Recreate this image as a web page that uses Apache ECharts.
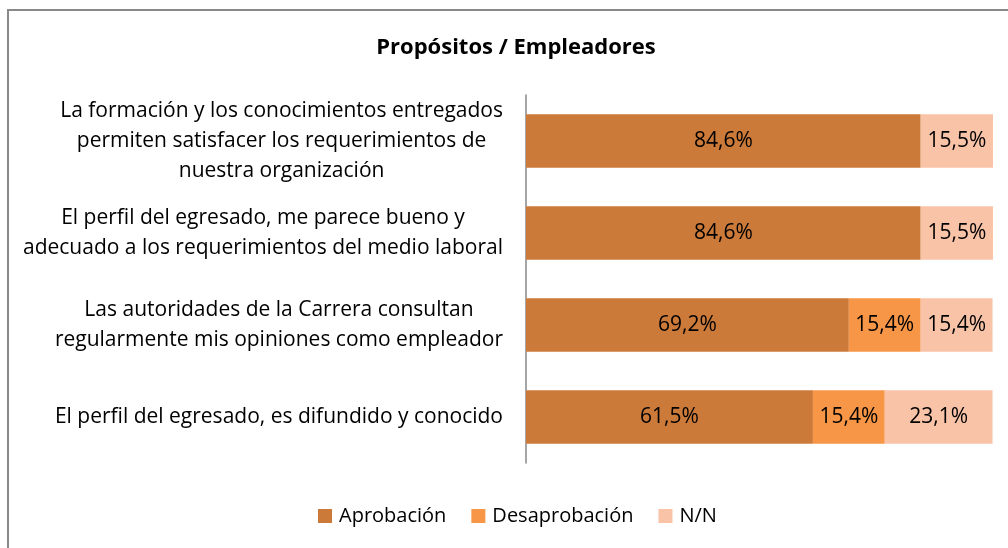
<!DOCTYPE html>
<html>
<head>
<meta charset="utf-8">
<script src="https://cdn.jsdelivr.net/npm/echarts@6/dist/echarts.min.js"></script>
<style>
  html, body { margin: 0; padding: 0; background: #fff; }
  #main { width: 1008px; height: 548px; }
</style>
</head>
<body>
<div id="main"></div>
<script>
// categories (top to bottom)
var categories = [
  'La formación y los conocimientos entregados\npermiten satisfacer los requerimientos de\nnuestra organización',
  'El perfil del egresado, me parece bueno y\nadecuado a los requerimientos del medio laboral',
  'Las autoridades de la Carrera consultan\nregularmente mis opiniones como empleador',
  'El perfil del egresado, es difundido y conocido'
];
var aprobacion = [84.6, 84.6, 69.2, 61.5];
var desaprobacion = [0, 0, 15.4, 15.4];
var nn = [15.5, 15.5, 15.4, 23.1];

var font = '"Open Sans", "Noto Sans", sans-serif';

function pct(v) {
  return v.toFixed(1).replace('.', ',') + '%';
}

function makeSeries(name, data, color) {
  return {
    name: name,
    type: 'bar',
    stack: 'total',
    barCategoryGap: '42%',
    data: data,
    itemStyle: { color: color },
    label: {
      show: true,
      position: 'inside',
      color: '#000',
      fontFamily: font,
      fontSize: 21,
      formatter: function (p) { return p.value > 0 ? pct(p.value) : ''; }
    }
  };
}

var chart = echarts.init(document.getElementById('main'));
chart.setOption({
  animation: false,
  title: {
    text: 'Propósitos / Empleadores',
    left: 511,
    top: 32,
    textAlign: 'center',
    textStyle: { fontFamily: font, fontSize: 22, fontWeight: 'bold', color: '#000' }
  },
  graphic: [{
    type: 'rect',
    shape: { x: 8, y: 10, width: 1020, height: 560 },
    style: { fill: null, stroke: '#898989', lineWidth: 2 },
    silent: true
  }],
  legend: {
    bottom: 17,
    left: 313,
    itemWidth: 14,
    itemHeight: 14,
    itemGap: 25,
    icon: 'rect',
    textStyle: { fontFamily: font, fontSize: 20, color: '#000', padding: [0, 0, 0, 2] },
    data: ['Aprobación', 'Desaprobación', 'N/N']
  },
  grid: { left: 526, right: 15, top: 95, bottom: 85, outerBoundsMode: 'none' },
  xAxis: {
    type: 'value',
    min: 0,
    max: 100.1,
    show: false
  },
  yAxis: {
    type: 'category',
    inverse: true,
    data: categories,
    axisLine: { lineStyle: { color: '#888', width: 1.5 } },
    axisTick: { show: false },
    axisLabel: {
      margin: 23,
      formatter: function (v) {
        return v.split('\n').map(function (l) { return '{c|' + l + '}'; }).join('\n');
      },
      rich: {
        c: { align: 'center', fontFamily: font, fontSize: 21, color: '#000', lineHeight: 30 }
      }
    }
  },
  series: [
    makeSeries('Aprobación', aprobacion, '#CC7A3A'),
    makeSeries('Desaprobación', desaprobacion, '#F79646'),
    makeSeries('N/N', nn, '#F9C3A7')
  ]
});
</script>
</body>
</html>
